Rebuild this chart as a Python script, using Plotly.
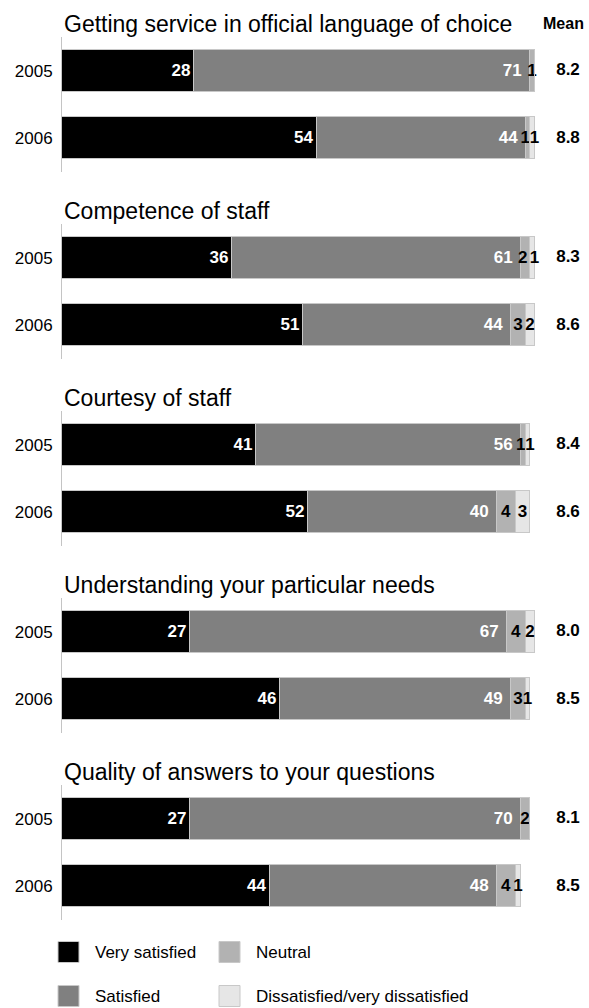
import plotly.graph_objects as go

# Survey topics, years and the share (%) of respondents in each rating band
topics = [
    "Getting service in official language of choice",
    "Competence of staff",
    "Courtesy of staff",
    "Understanding your particular needs",
    "Quality of answers to your questions",
]
years = ["2005", "2006"]
very_satisfied = [[28, 54], [36, 51], [41, 52], [27, 46], [27, 44]]
satisfied = [[71, 44], [61, 44], [56, 40], [67, 49], [70, 48]]
neutral = [[1, 1], [2, 3], [1, 4], [4, 3], [2, 4]]
dissatisfied = [[0, 1], [1, 2], [1, 3], [2, 1], [0, 1]]
means = [[8.2, 8.8], [8.3, 8.6], [8.4, 8.6], [8.0, 8.5], [8.1, 8.5]]

series_names = ["Very satisfied", "Satisfied", "Neutral", "Dissatisfied/very dissatisfied"]
series_values = [very_satisfied, satisfied, neutral, dissatisfied]
series_colors = ["#000000", "#808080", "#b2b2b2", "#e6e6e6"]
label_colors = ["#ffffff", "#ffffff", "#000000", "#000000"]

# Page geometry (pixels)
W, H = 589, 1008
LEFT, BAR_END = 62, 535                 # x pixel of 0 % and 100 %
PX_PER_PCT = (BAR_END - LEFT) / 100
X_MAX = (W - LEFT) / PX_PER_PCT         # axis extends to the page edge
MEAN_X = (568 - LEFT) / PX_PER_PCT      # column for the mean scores
FIRST_CENTER, STEP, HALF = 104.5, 187, 67.5

FONT = "Liberation Sans, Arial, sans-serif"
NBSP = "\u00a0"


def px_x(p):
    return p / W


def px_y(p):
    return 1 - p / H


def segment_labels(s, g):
    """Value labels for series s in group g; small neighbouring segments get
    a little spacing so their digits do not run together."""
    out = []
    for yi, v in enumerate(series_values[s][g]):
        if not v:
            out.append("")
            continue
        txt = str(v)
        if s == 1:
            txt += NBSP
        elif s == 2 and v <= 2 and dissatisfied[g][yi]:
            txt += NBSP
        elif s == 3 and v <= 1 and neutral[g][yi] <= 2:
            txt = NBSP + txt
        out.append(txt)
    return out


fig = go.Figure()
annotations = []
shapes = []

for g, topic in enumerate(topics):
    k = "" if g == 0 else str(g + 1)
    center = FIRST_CENTER + STEP * g
    fig.layout[f"xaxis{k}"] = dict(
        domain=[px_x(LEFT), 1],
        range=[0, X_MAX],
        visible=False,
        anchor=f"y{k}",
        fixedrange=True,
    )
    fig.layout[f"yaxis{k}"] = dict(
        domain=[px_y(center + HALF), px_y(center - HALF)],
        type="category",
        categoryorder="array",
        categoryarray=years[::-1],
        range=[-0.5, 1.5],
        anchor=f"x{k}",
        showline=True,
        linecolor="#c4c4c4",
        linewidth=1,
        showgrid=False,
        zeroline=False,
        ticks="",
        ticklabelstandoff=5,
        tickfont=dict(family=FONT, size=17, color="#000000"),
        fixedrange=True,
    )

    for s, values in enumerate(series_values):
        vals = values[g]
        fig.add_trace(
            go.Bar(
                x=vals,
                y=years,
                orientation="h",
                name=series_names[s],
                xaxis=f"x{k}",
                yaxis=f"y{k}",
                width=0.62,
                marker=dict(color=series_colors[s], line=dict(color="#c8c8c8", width=1)),
                text=segment_labels(s, g),
                textposition="inside",
                insidetextanchor="end" if s < 2 else "middle",
                textangle=0,
                textfont=dict(family=FONT, size=17, color=label_colors[s], weight="bold"),
                showlegend=False,
                hoverinfo="skip",
            )
        )

    # mean score to the right of each bar
    fig.add_trace(
        go.Scatter(
            x=[MEAN_X] * len(years),
            y=years,
            mode="text",
            text=[f"{m:.1f}" for m in means[g]],
            textposition="middle center",
            textfont=dict(family=FONT, size=17, color="#000000", weight="bold"),
            xaxis=f"x{k}",
            yaxis=f"y{k}",
            showlegend=False,
            hoverinfo="skip",
            cliponaxis=False,
        )
    )

    # topic heading above each pair of bars
    annotations.append(dict(
        text=topic, xref="paper", yref="paper",
        x=px_x(62), y=px_y(center - 81), xanchor="left", yanchor="middle",
        showarrow=False, font=dict(family=FONT, size=23, color="#000000"),
    ))

annotations.append(dict(
    text="Mean", xref="paper", yref="paper",
    x=px_x(563), y=px_y(23), xanchor="center", yanchor="middle",
    showarrow=False, font=dict(family=FONT, size=16, color="#000000", weight="bold"),
))

# Legend: two rows of two swatches
legend_layout = [[0, 2], [1, 3]]
col_x = [58, 219]
row_y = [952, 996]
SW = 21
for r, row in enumerate(legend_layout):
    for c, s in enumerate(row):
        x0 = col_x[c]
        yc = row_y[r]
        shapes.append(dict(
            type="rect", xref="paper", yref="paper",
            x0=px_x(x0), x1=px_x(x0 + SW), y0=px_y(yc + SW / 2), y1=px_y(yc - SW / 2),
            fillcolor=series_colors[s], line=dict(color="#c8c8c8", width=1),
        ))
        annotations.append(dict(
            text=series_names[s], xref="paper", yref="paper",
            x=px_x(x0 + 35), y=px_y(yc), xanchor="left", yanchor="middle",
            showarrow=False, font=dict(family=FONT, size=17, color="#000000"),
        ))

fig.update_layout(
    width=W, height=H,
    margin=dict(l=0, r=0, t=0, b=0),
    barmode="stack",
    bargap=0,
    paper_bgcolor="#ffffff",
    plot_bgcolor="#ffffff",
    uniformtext=dict(minsize=17, mode="show"),
    annotations=annotations,
    shapes=shapes,
    showlegend=False,
)

fig.write_html("out.html")
